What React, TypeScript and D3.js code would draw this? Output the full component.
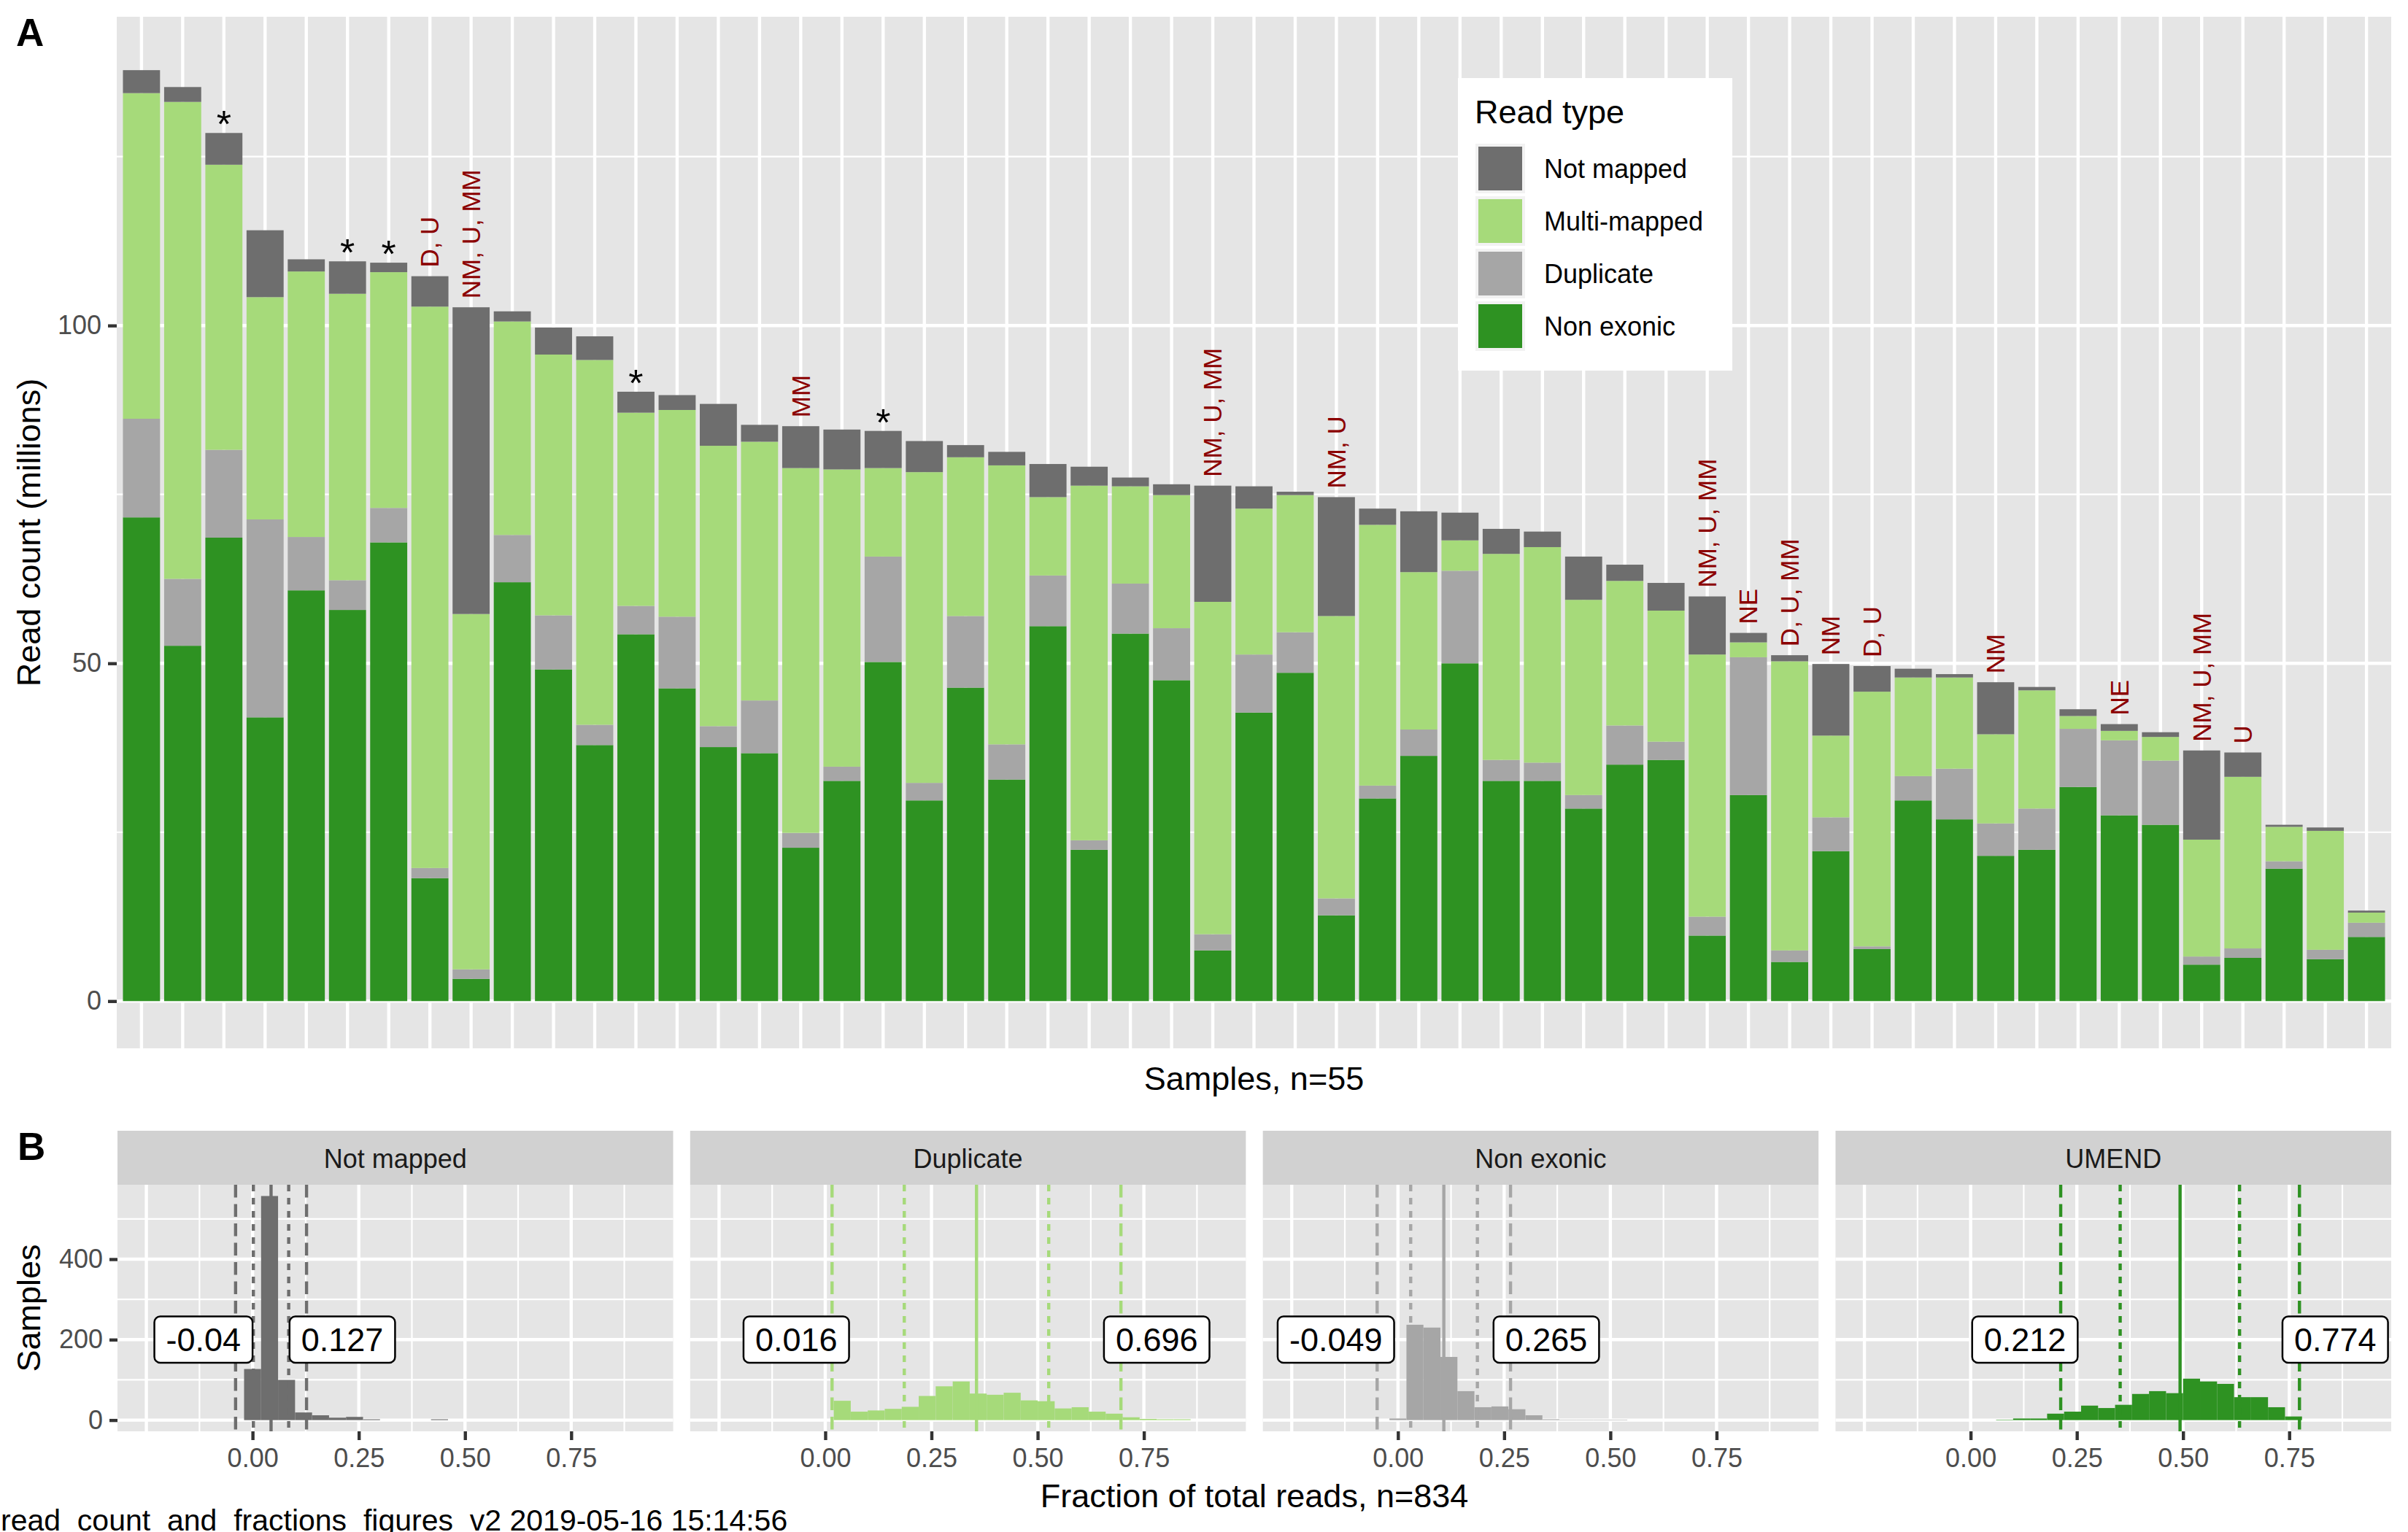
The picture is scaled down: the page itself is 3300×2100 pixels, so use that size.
import React, { useEffect, useRef } from 'react';
import * as d3 from 'd3';

const W = 3300;
const H = 2100;
const FONT = '"Liberation Sans", Arial, Helvetica, sans-serif';

// ---- Panel A: read counts per sample (millions), stacked bottom -> top
const readTypes = ['Not mapped', 'Multi-mapped', 'Duplicate', 'Non exonic'];
const readColors = ['#6E6E6E', '#A6DA7A', '#A6A6A6', '#2E9222'];

const nonExonic = [
  71.6, 52.6, 68.6, 42.0, 60.8, 57.9, 67.9, 18.2, 3.3, 62.0,
  49.1, 37.9, 54.3, 46.3, 37.6, 36.7, 22.7, 32.6, 50.2, 29.7,
  46.4, 32.8, 55.5, 22.4, 54.4, 47.5, 7.5, 42.7, 48.6, 12.7,
  30.0, 36.3, 50.0, 32.6, 32.6, 28.5, 35.0, 35.7, 9.7, 30.5,
  5.8, 22.2, 7.7, 29.7, 26.9, 21.5, 22.4, 31.7, 27.5, 26.1,
  5.4, 6.4, 19.6, 6.2, 9.5,
];
const duplicate = [
  14.6, 9.9, 13.0, 29.3, 7.9, 4.4, 5.1, 1.5, 1.4, 7.0,
  8.0, 3.0, 4.2, 10.6, 3.1, 7.8, 2.2, 2.1, 15.6, 2.6,
  10.6, 5.2, 7.5, 1.4, 7.4, 7.7, 2.4, 8.6, 6.0, 2.5,
  1.9, 3.9, 13.7, 3.1, 2.7, 2.0, 5.8, 2.7, 2.8, 20.4,
  1.7, 5.0, 0.4, 3.6, 7.5, 4.8, 6.1, 8.6, 11.1, 9.5,
  1.2, 1.4, 1.1, 1.4, 2.1,
];
const multiMapped = [
  48.2, 70.6, 42.2, 32.9, 39.3, 42.4, 34.9, 83.1, 52.6, 31.6,
  38.6, 54.0, 28.6, 30.6, 41.5, 38.3, 54.0, 44.0, 13.1, 46.0,
  23.5, 41.3, 11.6, 52.5, 14.4, 19.7, 49.2, 21.6, 20.3, 41.8,
  38.6, 23.3, 4.5, 30.5, 31.9, 28.9, 21.4, 19.4, 38.8, 2.2,
  42.8, 12.1, 37.7, 14.6, 13.5, 13.2, 17.5, 1.9, 1.4, 3.5,
  17.3, 25.4, 5.1, 17.6, 1.5,
];
const notMapped = [
  3.4, 2.2, 4.7, 9.9, 1.8, 4.8, 1.4, 4.5, 45.4, 1.5,
  4.0, 3.5, 3.1, 2.2, 6.2, 2.5, 6.2, 5.9, 5.5, 4.6,
  1.8, 2.0, 4.9, 2.8, 1.3, 1.6, 17.2, 3.3, 0.5, 17.6,
  2.4, 9.0, 4.1, 3.7, 2.3, 6.4, 2.4, 4.1, 8.6, 1.4,
  0.9, 10.6, 3.8, 1.3, 0.5, 7.7, 0.5, 1.0, 1.0, 0.7,
  13.2, 3.6, 0.3, 0.5, 0.3,
];

// sample number (1-based) -> flag text
const flags: [number, string][] = [
  [3, '*'], [6, '*'], [7, '*'], [8, 'D, U'], [9, 'NM, U, MM'], [13, '*'],
  [17, 'MM'], [19, '*'], [27, 'NM, U, MM'], [30, 'NM, U'], [39, 'NM, U, MM'],
  [40, 'NE'], [41, 'D, U, MM'], [42, 'NM'], [43, 'D, U'], [46, 'NM'],
  [49, 'NE'], [51, 'NM, U, MM'], [52, 'U'],
];

// ---- Panel B: histograms of fractions (bin width 0.04)
const facetNames = ['Not mapped', 'Duplicate', 'Non exonic', 'UMEND'];
const facetColors = ['#6E6E6E', '#A6DA7A', '#A6A6A6', '#2E9222'];
const binCenters = [
  0.0, 0.04, 0.08, 0.12, 0.16, 0.2, 0.24, 0.28, 0.32, 0.36, 0.4,
  0.44, 0.48, 0.52, 0.56, 0.6, 0.64, 0.68, 0.72, 0.76, 0.8, 0.84,
];
const histNotMapped = [127, 557, 100, 19, 12, 6, 8, 2, 0, 0, 0, 2, 0, 0, 0, 0, 0, 0, 0, 0, 0, 0];
const histDuplicate = [0, 48, 21, 24, 28, 33, 60, 84, 96, 66, 63, 68, 49, 47, 29, 32, 21, 16, 7, 3, 2, 2];
const histNonExonic = [4, 237, 230, 157, 72, 32, 34, 27, 12, 2, 1, 1, 1, 1, 0, 0, 0, 0, 0, 0, 0, 0];
const histUmend = [0, 0, 1, 4, 4, 16, 21, 36, 30, 38, 65, 72, 67, 103, 96, 90, 57, 57, 32, 9, 0, 0];
const histCounts = [histNotMapped, histDuplicate, histNonExonic, histUmend];

// mean -2sd, -1sd, mean, +1sd, +2sd
const statNotMapped = [-0.04, 0.0018, 0.0435, 0.085, 0.127];
const statDuplicate = [0.016, 0.186, 0.356, 0.526, 0.696];
const statNonExonic = [-0.049, 0.03, 0.108, 0.187, 0.265];
const statUmend = [0.212, 0.352, 0.493, 0.633, 0.774];
const facetStats = [statNotMapped, statDuplicate, statNonExonic, statUmend];

const styleAxis = (g: d3.Selection<SVGGElement, unknown, null, undefined>) => {
  g.select('.domain').remove();
  g.selectAll('.tick line').attr('stroke', '#333333').attr('stroke-width', 4.4);
  g.selectAll('.tick text')
    .attr('fill', '#4D4D4D')
    .attr('font-size', 36)
    .attr('font-family', FONT);
};

export default function App() {
  const svgRef = useRef<SVGSVGElement>(null);

  useEffect(() => {
    if (!svgRef.current) return;
    const svg = d3.select(svgRef.current);
    svg.selectAll('*').remove();
    svg.append('rect').attr('width', W).attr('height', H).attr('fill', '#ffffff');

    // ================= Panel A =================
    const A = { left: 160, right: 3277, top: 23, bottom: 1437 };
    const samples = nonExonic.map((_, i) => `S${i + 1}`);
    const rows = samples.map((s, i) => ({
      sample: s,
      nonExonic: nonExonic[i],
      duplicate: duplicate[i],
      multiMapped: multiMapped[i],
      notMapped: notMapped[i],
    }));
    const keys = ['nonExonic', 'duplicate', 'multiMapped', 'notMapped'];
    const keyColor: Record<string, string> = {
      notMapped: readColors[0],
      multiMapped: readColors[1],
      duplicate: readColors[2],
      nonExonic: readColors[3],
    };

    const x = d3
      .scaleBand()
      .domain(samples)
      .range([A.left, A.right])
      .paddingInner(0.1)
      .paddingOuter(0.15);
    const y = d3.scaleLinear().domain([-6.99, 145.7]).range([A.bottom, A.top]);

    const gA = svg.append('g');
    gA.append('rect')
      .attr('x', A.left)
      .attr('y', A.top)
      .attr('width', A.right - A.left)
      .attr('height', A.bottom - A.top)
      .attr('fill', '#E5E5E5');

    // grid
    gA.selectAll('line.minor')
      .data([25, 75, 125])
      .enter()
      .append('line')
      .attr('x1', A.left)
      .attr('x2', A.right)
      .attr('y1', (d) => y(d))
      .attr('y2', (d) => y(d))
      .attr('stroke', '#fff')
      .attr('stroke-width', 2.2);
    gA.selectAll('line.major')
      .data([0, 50, 100])
      .enter()
      .append('line')
      .attr('x1', A.left)
      .attr('x2', A.right)
      .attr('y1', (d) => y(d))
      .attr('y2', (d) => y(d))
      .attr('stroke', '#fff')
      .attr('stroke-width', 4.4);
    gA.selectAll('line.vgrid')
      .data(samples)
      .enter()
      .append('line')
      .attr('x1', (d) => (x(d) || 0) + x.bandwidth() / 2)
      .attr('x2', (d) => (x(d) || 0) + x.bandwidth() / 2)
      .attr('y1', A.top)
      .attr('y2', A.bottom)
      .attr('stroke', '#fff')
      .attr('stroke-width', 4.4);

    // stacked bars
    const stacked = d3.stack<any>().keys(keys)(rows);
    gA.selectAll('g.layer')
      .data(stacked)
      .enter()
      .append('g')
      .attr('fill', (d) => keyColor[d.key])
      .selectAll('rect')
      .data((d) => d)
      .enter()
      .append('rect')
      .attr('x', (d: any) => x(d.data.sample) || 0)
      .attr('width', x.bandwidth())
      .attr('y', (d) => y(d[1]))
      .attr('height', (d) => y(d[0]) - y(d[1]));

    // flags above bars
    flags.forEach(([n, label]) => {
      const i = n - 1;
      const total = nonExonic[i] + duplicate[i] + multiMapped[i] + notMapped[i];
      const cx = (x(samples[i]) || 0) + x.bandwidth() / 2;
      if (label === '*') {
        gA.append('text')
          .attr('x', cx)
          .attr('y', y(total) + 6)
          .attr('text-anchor', 'middle')
          .attr('font-family', FONT)
          .attr('font-size', 52)
          .attr('fill', '#000')
          .text('*');
      } else {
        gA.append('text')
          .attr('transform', `translate(${cx},${y(total) - 12}) rotate(-90)`)
          .attr('text-anchor', 'start')
          .attr('dy', '0.35em')
          .attr('font-family', FONT)
          .attr('font-size', 35)
          .attr('fill', '#8B0000')
          .text(label);
      }
    });

    // y axis
    const yAxisA = gA
      .append('g')
      .attr('transform', `translate(${A.left},0)`)
      .call(d3.axisLeft(y).tickValues([0, 50, 100]).tickSize(12).tickPadding(9));
    styleAxis(yAxisA);

    gA.append('text')
      .attr('transform', `translate(55,${(A.top + A.bottom) / 2}) rotate(-90)`)
      .attr('text-anchor', 'middle')
      .attr('font-family', FONT)
      .attr('font-size', 45)
      .text('Read count (millions)');
    gA.append('text')
      .attr('x', (A.left + A.right) / 2)
      .attr('y', 1494)
      .attr('text-anchor', 'middle')
      .attr('font-family', FONT)
      .attr('font-size', 45)
      .text('Samples, n=55');
    svg.append('text')
      .attr('x', 22)
      .attr('y', 63)
      .attr('font-family', FONT)
      .attr('font-weight', 'bold')
      .attr('font-size', 53)
      .text('A');

    // legend
    const lg = svg.append('g');
    lg.append('rect').attr('x', 1998).attr('y', 107).attr('width', 376).attr('height', 401).attr('fill', '#fff');
    lg.append('text')
      .attr('x', 2021)
      .attr('y', 169)
      .attr('font-family', FONT)
      .attr('font-size', 45)
      .text('Read type');
    readTypes.forEach((t, i) => {
      const ky = 197 + i * 72;
      lg.append('rect').attr('x', 2022).attr('y', ky).attr('width', 68).attr('height', 68).attr('fill', '#F2F2F2');
      lg.append('rect').attr('x', 2026).attr('y', ky + 4).attr('width', 60).attr('height', 60).attr('fill', readColors[i]);
      lg.append('text')
        .attr('x', 2116)
        .attr('y', ky + 34 + 12.6)
        .attr('font-family', FONT)
        .attr('font-size', 36)
        .text(t);
    });

    // ================= Panel B =================
    const B = { left: 161, right: 3277, stripTop: 1550, top: 1624, bottom: 1962 };
    const fx = d3.scaleBand().domain(facetNames).range([B.left, B.right]).paddingInner(0.0297);
    const yB = d3.scaleLinear().domain([-27.9, 585]).range([B.bottom, B.top]);
    const gB = svg.append('g');

    facetNames.forEach((name, fi) => {
      const x0 = fx(name) || 0;
      const bw = fx.bandwidth();
      const xB = d3.scaleLinear().domain([-0.318, 0.99]).range([x0, x0 + bw]);
      const col = facetColors[fi];
      const g = gB.append('g');

      // strip
      g.append('rect')
        .attr('x', x0)
        .attr('y', B.stripTop)
        .attr('width', bw)
        .attr('height', B.top - B.stripTop)
        .attr('fill', '#D1D1D1');
      g.append('text')
        .attr('x', x0 + bw / 2)
        .attr('y', 1601)
        .attr('text-anchor', 'middle')
        .attr('font-family', FONT)
        .attr('font-size', 36)
        .attr('fill', '#1A1A1A')
        .text(name);

      // panel + grid
      g.append('rect')
        .attr('x', x0)
        .attr('y', B.top)
        .attr('width', bw)
        .attr('height', B.bottom - B.top)
        .attr('fill', '#E5E5E5');
      const hLines: [number, number][] = [
        [100, 2.2], [300, 2.2], [500, 2.2], [0, 4.4], [200, 4.4], [400, 4.4],
      ];
      hLines.forEach(([v, w]) => {
        g.append('line')
          .attr('x1', x0)
          .attr('x2', x0 + bw)
          .attr('y1', yB(v))
          .attr('y2', yB(v))
          .attr('stroke', '#fff')
          .attr('stroke-width', w);
      });
      const vLines: [number, number][] = [
        [-0.125, 2.2], [0.125, 2.2], [0.375, 2.2], [0.625, 2.2], [0.875, 2.2],
        [-0.25, 4.4], [0, 4.4], [0.25, 4.4], [0.5, 4.4], [0.75, 4.4],
      ];
      vLines.forEach(([v, w]) => {
        g.append('line')
          .attr('x1', xB(v))
          .attr('x2', xB(v))
          .attr('y1', B.top)
          .attr('y2', B.bottom)
          .attr('stroke', '#fff')
          .attr('stroke-width', w);
      });

      // histogram
      const counts = histCounts[fi];
      g.selectAll('rect.bin')
        .data(binCenters.map((c, i) => ({ c, n: counts[i] })).filter((d) => d.n > 0))
        .enter()
        .append('rect')
        .attr('x', (d) => xB(d.c - 0.02))
        .attr('width', (d) => xB(d.c + 0.02) - xB(d.c - 0.02))
        .attr('y', (d) => yB(d.n))
        .attr('height', (d) => yB(0) - yB(d.n))
        .attr('fill', col);

      // mean / sd lines
      const st = facetStats[fi];
      const dashes = ['17.5 9', '9 9', null, '9 9', '17.5 9'];
      st.forEach((v, i) => {
        g.append('line')
          .attr('x1', xB(v))
          .attr('x2', xB(v))
          .attr('y1', B.top)
          .attr('y2', B.bottom)
          .attr('stroke', col)
          .attr('stroke-width', 4.4)
          .attr('stroke-dasharray', dashes[i]);
      });

      // value labels
      const cy = yB(200);
      const pad = 16;
      const mkLabel = (v: number, side: 'left' | 'right') => {
        const edge = side === 'left' ? xB(v + 0.04) : xB(v - 0.04);
        const lbl = g.append('g');
        const box = lbl.append('rect');
        const txt = lbl
          .append('text')
          .attr('x', side === 'left' ? edge - pad : edge + pad)
          .attr('y', cy + 16)
          .attr('text-anchor', side === 'left' ? 'end' : 'start')
          .attr('font-family', FONT)
          .attr('font-size', 45)
          .text(String(v));
        const tw = (txt.node() as SVGTextElement).getComputedTextLength();
        box
          .attr('x', side === 'left' ? edge - tw - 2 * pad : edge)
          .attr('y', cy - 31.75)
          .attr('width', tw + 2 * pad)
          .attr('height', 63.5)
          .attr('rx', 8)
          .attr('fill', '#fff')
          .attr('stroke', '#000')
          .attr('stroke-width', 2.5);
      };
      mkLabel(st[0], 'left');
      mkLabel(st[4], 'right');

      // x axis
      const xa = g
        .append('g')
        .attr('transform', `translate(0,${B.bottom})`)
        .call(
          d3
            .axisBottom(xB)
            .tickValues([0, 0.25, 0.5, 0.75])
            .tickFormat(d3.format('.2f') as any)
            .tickSize(12)
            .tickPadding(11)
        );
      styleAxis(xa);
    });

    const yAxisB = gB
      .append('g')
      .attr('transform', `translate(${B.left},0)`)
      .call(d3.axisLeft(yB).tickValues([0, 200, 400]).tickSize(11).tickPadding(9));
    styleAxis(yAxisB);

    gB.append('text')
      .attr('transform', `translate(55,${(B.top + B.bottom) / 2}) rotate(-90)`)
      .attr('text-anchor', 'middle')
      .attr('font-family', FONT)
      .attr('font-size', 45)
      .text('Samples');
    gB.append('text')
      .attr('x', (B.left + B.right) / 2)
      .attr('y', 2066)
      .attr('text-anchor', 'middle')
      .attr('font-family', FONT)
      .attr('font-size', 45)
      .text('Fraction of total reads, n=834');
    svg.append('text')
      .attr('x', 24)
      .attr('y', 1590)
      .attr('font-family', FONT)
      .attr('font-weight', 'bold')
      .attr('font-size', 53)
      .text('B');

    svg.append('text')
      .attr('x', 1)
      .attr('y', 2098)
      .attr('text-anchor', 'start')
      .attr('font-family', FONT)
      .attr('font-size', 41)
      .text('read_count_and_fractions_figures_v2 2019-05-16 15:14:56');
  }, []);

  return (
    <div style={{ position: 'absolute', left: 0, top: 0 }}>
      <svg ref={svgRef} width={W} height={H} style={{ display: 'block' }} />
    </div>
  );
}
